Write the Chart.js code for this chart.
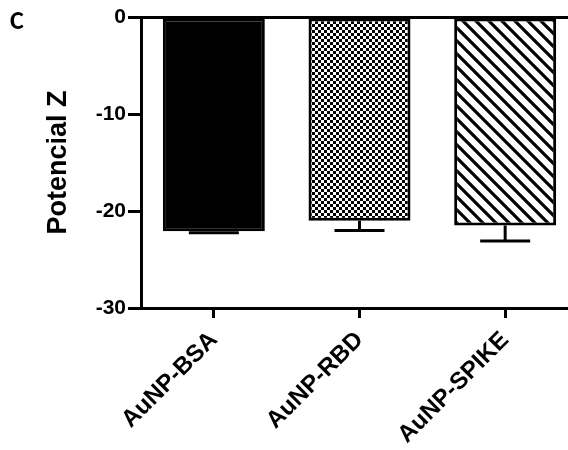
<!DOCTYPE html>
<html>
<head>
<meta charset="utf-8">
<script src="https://cdn.jsdelivr.net/npm/chart.js@4.4.1/dist/chart.umd.min.js"></script>
<style>
  html, body { margin: 0; padding: 0; background: #fff; overflow: hidden; }
  #wrap { width: 580px; height: 450px; }
</style>
</head>
<body>
<div id="wrap"><canvas id="zetaChart" width="580" height="450"></canvas></div>
<script>
// data
const categories = ['AuNP-BSA', 'AuNP-RBD', 'AuNP-SPIKE'];
const zetaValues = [-22.1, -21.0, -21.5];
const zetaErrors = [0.15, 1.0, 1.6];
const yTicks = [0, -10, -20, -30];

const FONT = 'Liberation Sans, Arial, sans-serif';

function checkerPattern() {
    var c = document.createElement('canvas');
    c.width = 6; c.height = 6;
    var g = c.getContext('2d');
    g.fillStyle = '#fff';
    g.fillRect(0, 0, 6, 6);
    g.fillStyle = '#000';
    g.fillRect(0, 0, 3, 3);
    g.fillRect(3, 3, 3, 3);
    return g.createPattern(c, 'repeat');
}

function stripePattern() {
    var s = 13;
    var c = document.createElement('canvas');
    c.width = s; c.height = s;
    var g = c.getContext('2d');
    g.fillStyle = '#fff';
    g.fillRect(0, 0, s, s);
    g.strokeStyle = '#000';
    g.lineWidth = 3.2;
    // "\" direction stripes
    g.beginPath();
    g.moveTo(-s, 0); g.lineTo(s, 2 * s);
    g.moveTo(0, 0); g.lineTo(s, s);
    g.moveTo(0, -s); g.lineTo(2 * s, s);
    g.stroke();
    return g.createPattern(c, 'repeat');
}

const fills = ['#000', checkerPattern(), stripePattern()];

// error bars below each bar (mean - sd)
const errorBars = {
    id: 'errorBars',
    afterDatasetsDraw(chart) {
        const ctx = chart.ctx;
        const yScale = chart.scales.y;
        const meta = chart.getDatasetMeta(0);
        ctx.save();
        ctx.strokeStyle = '#000';
        ctx.lineWidth = 3;
        meta.data.forEach(function (bar, i) {
            var y0 = yScale.getPixelForValue(zetaValues[i]);
            var y1 = yScale.getPixelForValue(zetaValues[i] - zetaErrors[i]);
            ctx.beginPath();
            ctx.moveTo(bar.x, y0);
            ctx.lineTo(bar.x, y1);
            ctx.moveTo(bar.x - 25, y1);
            ctx.lineTo(bar.x + 25, y1);
            ctx.stroke();
        });
        ctx.restore();
    }
};

// panel letter
const panelLabel = {
    id: 'panelLabel',
    afterDraw(chart) {
        const ctx = chart.ctx;
        ctx.save();
        ctx.fillStyle = '#000';
        ctx.font = 'bold 26px Carlito, Calibri, ' + FONT;
        ctx.textBaseline = 'alphabetic';
        ctx.fillText('C', 10, 29);
        ctx.restore();
    }
};

const config = {
    type: 'bar',
    data: {
        labels: categories,
        datasets: [{
            data: zetaValues,
            backgroundColor: fills,
            borderColor: '#000',
            borderWidth: 3,
            borderSkipped: false,
            categoryPercentage: 1,
            barPercentage: 0.70
        }]
    },
    options: {
        responsive: false,
        animation: false,
        layout: { padding: { top: 17, right: 2, left: 0, bottom: 0 } },
        plugins: {
            legend: { display: false },
            tooltip: { enabled: false }
        },
        scales: {
            x: {
                afterFit: function (scale) { scale.height = 142; },
                border: { display: true, color: '#000', width: 3 },
                grid: {
                    offset: false,
                    drawOnChartArea: false,
                    color: '#000',
                    tickColor: '#000',
                    lineWidth: 3,
                    tickLength: 10
                },
                ticks: {
                    color: '#000',
                    minRotation: 45,
                    maxRotation: 45,
                    padding: 8,
                    font: { family: FONT, size: 24, weight: 'bold' }
                }
            },
            y: {
                min: -30,
                max: 0,
                afterFit: function (scale) { scale.width = 141; },
                afterBuildTicks: function (scale) {
                    scale.ticks = yTicks.map(function (v) { return { value: v }; });
                },
                border: { display: true, color: '#000', width: 3 },
                grid: {
                    color: function (c) { return c.tick && c.tick.value === 0 ? '#000' : 'rgba(0,0,0,0)'; },
                    tickColor: '#000',
                    lineWidth: 3,
                    tickLength: 13
                },
                ticks: {
                    color: '#000',
                    padding: 2,
                    font: { family: FONT, size: 21, weight: 'bold' }
                },
                title: {
                    display: true,
                    text: 'Potencial Z',
                    color: '#000',
                    padding: { top: 42, bottom: 0 },
                    font: { family: FONT, size: 27, weight: 'bold' }
                }
            }
        }
    },
    plugins: [errorBars, panelLabel]
};

new Chart(document.getElementById('zetaChart'), config);
</script>
</body>
</html>
